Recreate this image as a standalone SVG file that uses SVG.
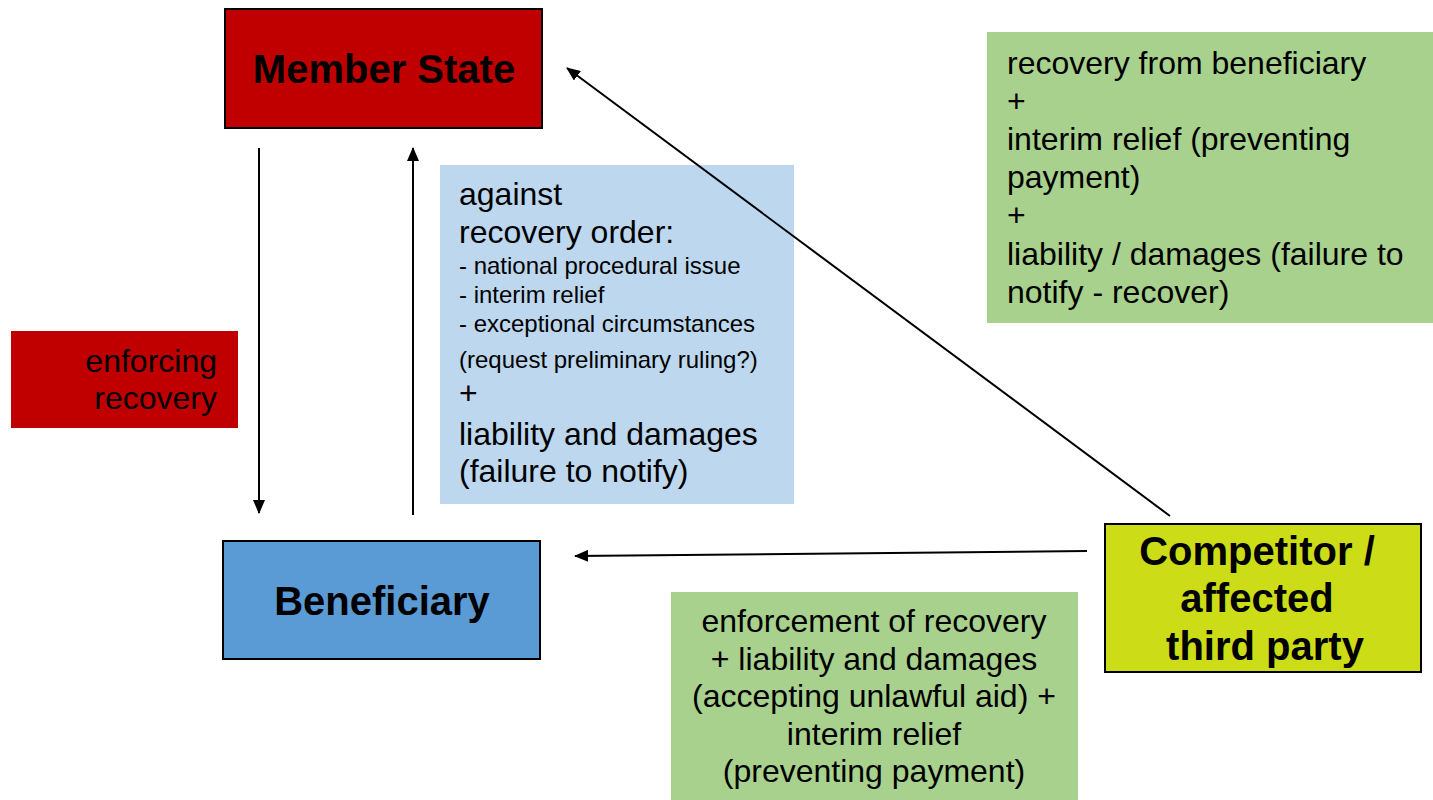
<svg xmlns="http://www.w3.org/2000/svg" width="1433" height="800" viewBox="0 0 1433 800">
<style>
.t{font-family:"Liberation Sans",Arial,sans-serif;font-size:32px;fill:#000}
.s{font-size:24px}
.b{font-family:"Liberation Sans",Arial,sans-serif;font-size:40px;font-weight:bold;fill:#000;text-anchor:middle}
.c{text-anchor:middle}
.r{text-anchor:end}
.node{stroke:#000;stroke-width:2}
.conn{stroke:#000;stroke-width:2;fill:none;marker-end:url(#ah)}
</style>
<defs>
<marker id="ah" markerUnits="userSpaceOnUse" markerWidth="14" markerHeight="12" refX="13" refY="6" orient="auto">
<path d="M0,0 L14,6 L0,12 Z" fill="#000"/>
</marker>
</defs>
<rect width="1433" height="800" fill="#fff"/>
<g id="green-top">
<rect x="987" y="32" width="446" height="291" fill="#A9D18E"/>
<text class="t" x="1007" y="74">recovery from beneficiary</text>
<text class="t" x="1007" y="112">+</text>
<text class="t" x="1007" y="150">interim relief (preventing</text>
<text class="t" x="1007" y="188">payment)</text>
<text class="t" x="1007" y="226">+</text>
<text class="t" x="1007" y="265">liability / damages (failure to</text>
<text class="t" x="1007" y="303">notify - recover)</text>
</g>
<g id="green-bottom">
<rect x="671" y="592" width="407" height="208" fill="#A9D18E"/>
<text class="t c" x="874" y="632">enforcement of recovery</text>
<text class="t c" x="874" y="670">+ liability and damages</text>
<text class="t c" x="874" y="707">(accepting unlawful aid) +</text>
<text class="t c" x="874" y="745">interim relief</text>
<text class="t c" x="874" y="782">(preventing payment)</text>
</g>
<g id="red-label">
<rect x="11" y="331" width="227" height="97" fill="#C00000"/>
<text class="t r" x="217" y="372">enforcing</text>
<text class="t r" x="217" y="409">recovery</text>
</g>
<g id="blue-label">
<rect x="440" y="165" width="354" height="339" fill="#BDD7EE"/>
<text class="t" x="459" y="205">against</text>
<text class="t" x="459" y="243">recovery order:</text>
<text class="t s" x="459" y="274">- national procedural issue</text>
<text class="t s" x="459" y="303">- interim relief</text>
<text class="t s" x="459" y="332">- exceptional circumstances</text>
<text class="t s" x="459" y="368">(request preliminary ruling?)</text>
<text class="t" x="459" y="404">+</text>
<text class="t" x="459" y="445">liability and damages</text>
<text class="t" x="459" y="482">(failure to notify)</text>
</g>
<g id="member-state">
<rect class="node" x="225" y="9" width="317" height="119" fill="#C00000"/>
<text class="b" x="384" y="83">Member State</text>
</g>
<g id="beneficiary">
<rect class="node" x="223" y="541" width="317" height="118" fill="#5B9BD5"/>
<text class="b" x="382" y="615">Beneficiary</text>
</g>
<g id="competitor">
<rect class="node" x="1105" y="524" width="316" height="148" fill="#CCDD17"/>
<text class="b" x="1257" y="565">Competitor /</text>
<text class="b" x="1257" y="612">affected</text>
<text class="b" x="1265" y="660">third party</text>
</g>
<g id="connectors">
<line class="conn" x1="259" y1="148" x2="259" y2="513"/>
<line class="conn" x1="413" y1="515" x2="413" y2="148"/>
<line class="conn" x1="1170" y1="516" x2="567" y2="68"/>
<line class="conn" x1="1087" y1="551" x2="575" y2="556"/>
</g>
</svg>
